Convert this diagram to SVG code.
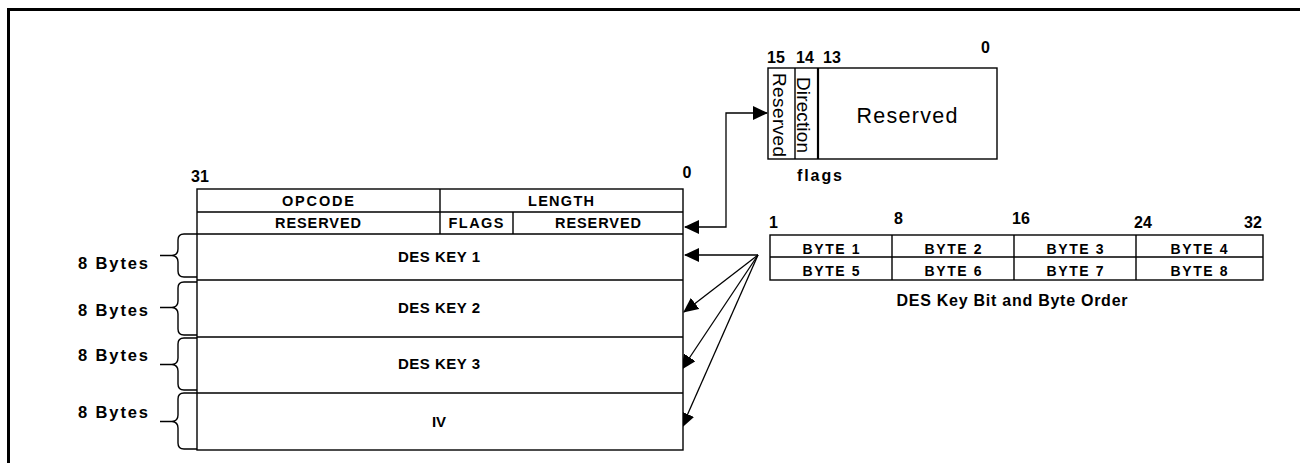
<svg xmlns="http://www.w3.org/2000/svg" width="1300" height="463" viewBox="0 0 1300 463">
<style>
.b{font-family:"Liberation Sans",Arial,sans-serif;font-weight:bold;fill:#000}
.r{font-family:"Liberation Sans",Arial,sans-serif;fill:#000}
.ln{stroke:#000;stroke-width:1.4;fill:none}
.box{stroke:#000;stroke-width:1.4;fill:#fff}
.c{stroke:#000;stroke-width:1.3;fill:none}
</style>
<defs>
<marker id="ah" viewBox="0 0 15 14" refX="14" refY="7" markerWidth="15" markerHeight="14" markerUnits="userSpaceOnUse" orient="auto-start-reverse">
<path d="M0,0 L15,7 L0,14 Z" fill="#000"/>
</marker>
</defs>
<rect width="1300" height="463" fill="#fff"/>
<path d="M8.5,463 V9.5 H1300" stroke="#000" stroke-width="3" fill="none"/>

<g id="connectors">
<path class="c" d="M685,227 H726 V113 H767" marker-start="url(#ah)" marker-end="url(#ah)"/>
<line class="c" x1="758" y1="255" x2="685" y2="255" marker-end="url(#ah)"/>
<line class="c" x1="758" y1="255" x2="684" y2="312" marker-end="url(#ah)"/>
<line class="c" x1="758" y1="255" x2="682" y2="369" marker-end="url(#ah)"/>
<line class="c" x1="758" y1="255" x2="682" y2="427" marker-end="url(#ah)"/>
</g>

<g id="descriptor">
<rect class="box" x="197" y="189" width="486" height="261"/>
<path class="ln" d="M197,212 H683 M197,234 H683 M197,280 H683 M197,337 H683 M197,393 H683 M440,189 V234 M513,212 V234"/>
<text class="b" x="200" y="182" font-size="16" text-anchor="middle">31</text>
<text class="b" x="687" y="178" font-size="16" text-anchor="middle">0</text>
<text class="b" x="318" y="206" font-size="14.5" text-anchor="middle" textLength="72" lengthAdjust="spacing">OPCODE</text>
<text class="b" x="561" y="206" font-size="14.5" text-anchor="middle" textLength="66" lengthAdjust="spacing">LENGTH</text>
<text class="b" x="318" y="228" font-size="14.5" text-anchor="middle" textLength="86" lengthAdjust="spacing">RESERVED</text>
<text class="b" x="476" y="228" font-size="14.5" text-anchor="middle" textLength="55" lengthAdjust="spacing">FLAGS</text>
<text class="b" x="598" y="228" font-size="14.5" text-anchor="middle" textLength="86" lengthAdjust="spacing">RESERVED</text>
<text class="b" x="439" y="262" font-size="15" text-anchor="middle" textLength="82" lengthAdjust="spacing">DES KEY 1</text>
<text class="b" x="439" y="313" font-size="15" text-anchor="middle" textLength="82" lengthAdjust="spacing">DES KEY 2</text>
<text class="b" x="439" y="369" font-size="15" text-anchor="middle" textLength="82" lengthAdjust="spacing">DES KEY 3</text>
<text class="b" x="439" y="427" font-size="15" text-anchor="middle">IV</text>
</g>

<g id="braces">
<path class="ln" d="M197,234 H184 Q178,234 178,240 V249 Q178,255 172,255.5 H160 M172,255.5 Q178,256 178,262 V271 Q178,277 184,277 H197"/>
<path class="ln" d="M197,282 H184 Q178,282 178,288 V301 Q178,307 172,307.5 H160 M172,307.5 Q178,308 178,314 V329 Q178,335 184,335 H197"/>
<path class="ln" d="M197,338 H184 Q178,338 178,344 V358 Q178,364 172,364.5 H160 M172,364.5 Q178,365 178,371 V384 Q178,390 184,390 H197"/>
<path class="ln" d="M197,393 H184 Q178,393 178,399 V415 Q178,421 172,421.5 H160 M172,421.5 Q178,422 178,428 V443 Q178,449 184,449 H197"/>
<text class="b" x="78" y="269" font-size="16.5" textLength="70" lengthAdjust="spacing">8 Bytes</text>
<text class="b" x="78" y="316" font-size="16.5" textLength="70" lengthAdjust="spacing">8 Bytes</text>
<text class="b" x="78" y="361" font-size="16.5" textLength="70" lengthAdjust="spacing">8 Bytes</text>
<text class="b" x="78" y="418" font-size="16.5" textLength="70" lengthAdjust="spacing">8 Bytes</text>
</g>

<g id="flags">
<rect class="box" x="768" y="68" width="229" height="91"/>
<line class="ln" x1="795" y1="68" x2="795" y2="159"/>
<line x1="818" y1="68" x2="818" y2="159" stroke="#000" stroke-width="2.2"/>
<text class="r" transform="translate(773,73) rotate(90)" font-size="19" textLength="84" lengthAdjust="spacing">Reserved</text>
<text class="r" transform="translate(797,77) rotate(90)" font-size="19" textLength="76" lengthAdjust="spacing">Direction</text>
<text class="r" x="907" y="123" font-size="21.5" text-anchor="middle" textLength="101" lengthAdjust="spacing">Reserved</text>
<text class="b" x="767" y="63" font-size="16">15</text>
<text class="b" x="796" y="63" font-size="16">14</text>
<text class="b" x="823" y="63" font-size="16">13</text>
<text class="b" x="981" y="53" font-size="16">0</text>
<text class="b" x="797" y="181" font-size="16" textLength="45" lengthAdjust="spacing">flags</text>
</g>

<g id="byteorder">
<rect class="box" x="770" y="235" width="493" height="45"/>
<path class="ln" d="M770,257 H1263 M892,235 V280 M1014,235 V280 M1136,235 V280"/>
<text class="b" x="831" y="254" font-size="14" text-anchor="middle" textLength="57" lengthAdjust="spacing">BYTE 1</text>
<text class="b" x="953" y="254" font-size="14" text-anchor="middle" textLength="57" lengthAdjust="spacing">BYTE 2</text>
<text class="b" x="1075" y="254" font-size="14" text-anchor="middle" textLength="57" lengthAdjust="spacing">BYTE 3</text>
<text class="b" x="1199" y="254" font-size="14" text-anchor="middle" textLength="57" lengthAdjust="spacing">BYTE 4</text>
<text class="b" x="831" y="276" font-size="14" text-anchor="middle" textLength="57" lengthAdjust="spacing">BYTE 5</text>
<text class="b" x="953" y="276" font-size="14" text-anchor="middle" textLength="57" lengthAdjust="spacing">BYTE 6</text>
<text class="b" x="1075" y="276" font-size="14" text-anchor="middle" textLength="57" lengthAdjust="spacing">BYTE 7</text>
<text class="b" x="1199" y="276" font-size="14" text-anchor="middle" textLength="57" lengthAdjust="spacing">BYTE 8</text>
<text class="b" x="769" y="228" font-size="16">1</text>
<text class="b" x="894" y="224" font-size="16">8</text>
<text class="b" x="1012" y="224" font-size="16">16</text>
<text class="b" x="1134" y="228" font-size="16">24</text>
<text class="b" x="1244" y="228" font-size="16">32</text>
<text class="b" x="1012" y="306" font-size="16" text-anchor="middle" textLength="231" lengthAdjust="spacing">DES Key Bit and Byte Order</text>
</g>
</svg>
